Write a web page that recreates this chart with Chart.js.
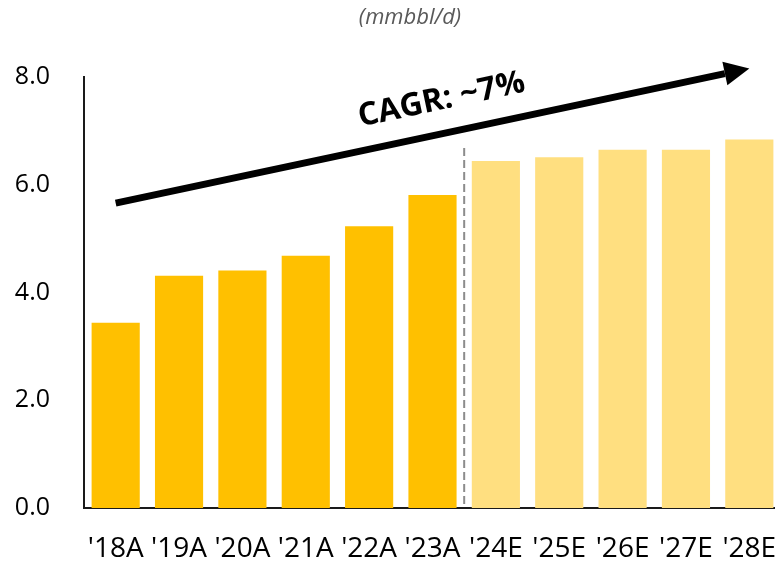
<!DOCTYPE html>
<html>
<head>
<meta charset="utf-8">
<script src="https://cdn.jsdelivr.net/npm/chart.js@4.4.1/dist/chart.umd.min.js"></script>
<style>
    html, body { margin: 0; padding: 0; background: #fff; overflow: hidden; }
    #wrap { position: relative; width: 781px; height: 564px; }
</style>
</head>
<body>
<div id="wrap"><canvas id="prodChart"></canvas></div>
<script>
// Production volumes (mmbbl/d), actuals and estimates
const categories = ["'18A", "'19A", "'20A", "'21A", "'22A", "'23A", "'24E", "'25E", "'26E", "'27E", "'28E"];
const actualValues = [3.44, 4.31, 4.41, 4.68, 5.23, 5.81, null, null, null, null, null];
const estimateValues = [null, null, null, null, null, null, 6.44, 6.51, 6.65, 6.65, 6.84];
const yTicks = [0, 2, 4, 6, 8];

// CAGR arrow end points (category index, value) and divider top value
const arrowStart = [0, 5.66];
const arrowEnd = [10, 8.16];
const dividerTop = 6.68;

const FONT = "'Open Sans', 'Noto Sans', sans-serif";

// Draws the title, the dashed actual/estimate divider and the CAGR arrow
const overlayPlugin = {
    id: 'overlay',
    afterDraw(chart) {
        const ctx = chart.ctx;
        const x = chart.scales.x, y = chart.scales.y;

        ctx.save();
        ctx.fillStyle = '#595959';
        ctx.font = "italic 22px " + FONT;
        ctx.textAlign = 'center';
        ctx.textBaseline = 'middle';
        ctx.fillText('(mmbbl/d)', 410, 18);

        // divider between actuals and estimates
        const dx = (x.getPixelForValue(5) + x.getPixelForValue(6)) / 2;
        ctx.strokeStyle = '#8c8c8c';
        ctx.lineWidth = 2;
        ctx.setLineDash([8, 4]);
        ctx.beginPath();
        ctx.moveTo(dx, y.getPixelForValue(dividerTop));
        ctx.lineTo(dx, y.getPixelForValue(0));
        ctx.stroke();
        ctx.setLineDash([]);

        // arrow
        const x0 = x.getPixelForValue(arrowStart[0]), y0 = y.getPixelForValue(arrowStart[1]);
        const x1 = x.getPixelForValue(arrowEnd[0]), y1 = y.getPixelForValue(arrowEnd[1]);
        const ang = Math.atan2(y1 - y0, x1 - x0);
        const headLen = 25, headW = 12;
        const bx = x1 - headLen * Math.cos(ang), by = y1 - headLen * Math.sin(ang);
        ctx.strokeStyle = '#000';
        ctx.lineWidth = 7;
        ctx.beginPath();
        ctx.moveTo(x0, y0);
        ctx.lineTo(bx, by);
        ctx.stroke();
        ctx.fillStyle = '#000';
        ctx.beginPath();
        ctx.moveTo(x1, y1);
        ctx.lineTo(bx + headW * Math.sin(ang), by - headW * Math.cos(ang));
        ctx.lineTo(bx - headW * Math.sin(ang), by + headW * Math.cos(ang));
        ctx.closePath();
        ctx.fill();

        // CAGR label above the arrow
        const t = 0.525;
        const mx = x0 + (x1 - x0) * t, my = y0 + (y1 - y0) * t;
        ctx.translate(mx + 33 * Math.sin(ang), my - 33 * Math.cos(ang));
        ctx.rotate(ang);
        ctx.font = "bold 32px " + FONT;
        ctx.fillText('CAGR: ~7%', 0, 0);
        ctx.restore();
    }
};

new Chart(document.getElementById('prodChart'), {
    type: 'bar',
    data: {
        labels: categories,
        datasets: [
            { label: 'Actual', data: actualValues, backgroundColor: '#FFC000' },
            { label: 'Estimate', data: estimateValues, backgroundColor: '#FFDF80' }
        ]
    },
    options: {
        responsive: true,
        maintainAspectRatio: false,
        animation: false,
        datasets: { bar: { grouped: false, barPercentage: 0.76, categoryPercentage: 1 } },
        layout: { padding: { top: 77, left: 0, right: 0, bottom: 0 } },
        plugins: {
            legend: { display: false },
            tooltip: { enabled: false }
        },
        scales: {
            x: {
                grid: { display: false, drawTicks: false },
                border: { display: true, color: '#1a1a1a', width: 2 },
                ticks: { color: '#000', padding: 24, maxRotation: 0, autoSkip: false, font: { family: FONT, size: 28 } },
                afterFit(scale) {
                    scale.height = 56;
                    scale.paddingLeft = 0;
                    scale.paddingRight = 0;
                }
            },
            y: {
                min: 0,
                max: 8,
                afterBuildTicks(scale) { scale.ticks = yTicks.map(v => ({ value: v })); },
                grid: { display: false, drawTicks: false },
                border: { display: true, color: '#1a1a1a', width: 2 },
                ticks: {
                    color: '#000',
                    padding: 34,
                    font: { family: FONT, size: 25 },
                    callback: v => v.toFixed(1)
                },
                afterFit(scale) {
                    scale.width = 84;
                    scale.paddingTop = 0;
                    scale.paddingBottom = 0;
                }
            }
        }
    },
    plugins: [overlayPlugin]
});
</script>
</body>
</html>
